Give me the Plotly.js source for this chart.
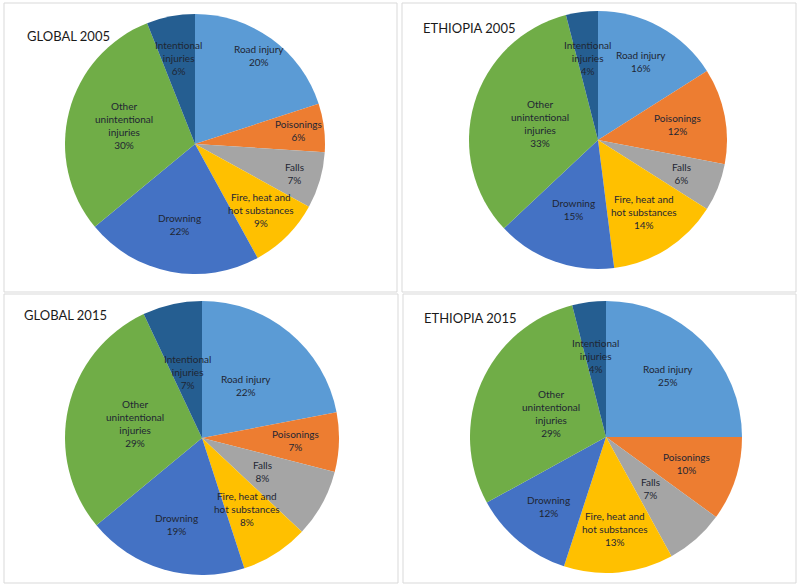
<!DOCTYPE html>
<html><head><meta charset="utf-8">
<script src="https://cdn.plot.ly/plotly-3.0.1.min.js"></script>
<style>body{margin:0;background:#fff;}#chart{width:800px;height:587px;}</style>
</head><body><div id="chart"></div>
<script>
// ---- data ----
const categories = ["Road injury", "Poisonings", "Falls", "Fire, heat and hot substances", "Drowning", "Other unintentional injuries", "Intentional injuries"];
const categoryLines = ["Road injury", "Poisonings", "Falls", "Fire, heat and<br>hot substances", "Drowning", "Other<br>unintentional<br>injuries", "Intentional<br>injuries"];
const global2005 = [20, 6, 7, 9, 22, 30, 6];
const ethiopia2005 = [16, 12, 6, 14, 15, 33, 4];
const global2015 = [22, 7, 8, 8, 19, 29, 7];
const ethiopia2015 = [25, 10, 7, 13, 12, 29, 4];
const chartTitles = ["GLOBAL 2005", "ETHIOPIA 2005", "GLOBAL 2015", "ETHIOPIA 2015"];

// ---- style ----
const colors = ["#5B9BD5", "#ED7D31", "#A5A5A5", "#FFC000", "#4472C4", "#70AD47", "#255E91"];
const W = 800, H = 587;
const panels = [
  {values: global2005,   cx: 195, cy: 144, r: 130, tx: 25,  ty: 36,  box: [4, 3, 397, 292],
   lr: [0.84, 0.8, 0.8, 0.72, 0.63, 0.56, 0.67]},
  {values: ethiopia2005, cx: 598, cy: 140, r: 129, tx: 421, ty: 28,  box: [402, 3, 796, 292],
   lr: [0.69, 0.63, 0.7, 0.66, 0.57, 0.47, 0.64]},
  {values: global2015,   cx: 202, cy: 438, r: 137, tx: 22,  ty: 315, box: [4, 294, 398, 583],
   lr: [0.5, 0.68, 0.5, 0.61, 0.66, 0.5, 0.49]},
  {values: ethiopia2015, cx: 606, cy: 437, r: 136, tx: 422, ty: 318, box: [403, 294, 796, 583],
   lr: [0.64, 0.62, 0.5, 0.68, 0.66, 0.44, 0.6]}
];

const traces = [], annotations = [], shapes = [];
panels.forEach((p, k) => {
  traces.push({
    type: 'pie', values: p.values, labels: categories, sort: false,
    direction: 'clockwise', rotation: 0, textinfo: 'none', hoverinfo: 'label+percent',
    marker: {colors: colors, line: {width: 0}}, showlegend: false,
    domain: {x: [(p.cx - p.r) / W, (p.cx + p.r) / W], y: [1 - (p.cy + p.r) / H, 1 - (p.cy - p.r) / H]}
  });
  const total = p.values.reduce((a, b) => a + b, 0);
  let cum = 0;
  p.values.forEach((v, i) => {
    const mid = (cum + v / 2) / total * 2 * Math.PI;
    cum += v;
    const px = p.cx + p.lr[i] * p.r * Math.sin(mid);
    const py = p.cy - p.lr[i] * p.r * Math.cos(mid);
    annotations.push({
      xref: 'paper', yref: 'paper', x: px / W, y: 1 - py / H, xanchor: 'center', yanchor: 'middle',
      text: categoryLines[i] + '<br>' + Math.round(v / total * 100) + '%', showarrow: false, align: 'center',
      font: {family: 'Lato, "Open Sans", sans-serif', size: 10, color: '#1f2633'}
    });
  });
  annotations.push({
    xref: 'paper', yref: 'paper', x: p.tx / W, y: 1 - p.ty / H, xanchor: 'left', yanchor: 'middle',
    text: chartTitles[k], showarrow: false,
    font: {family: 'Lato, "Open Sans", sans-serif', size: 13, color: '#1a1a1a'}
  });
  shapes.push({type: 'rect', xref: 'paper', yref: 'paper',
    x0: p.box[0] / W, x1: p.box[2] / W, y0: 1 - p.box[3] / H, y1: 1 - p.box[1] / H,
    line: {color: '#d9d9d9', width: 1}, fillcolor: 'rgba(0,0,0,0)', layer: 'below'});
});

Plotly.newPlot('chart', traces, {
  width: W, height: H, margin: {l: 0, r: 0, t: 0, b: 0},
  paper_bgcolor: '#ffffff', annotations: annotations, shapes: shapes, showlegend: false
}, {displayModeBar: false, staticPlot: true});
</script></body></html>
